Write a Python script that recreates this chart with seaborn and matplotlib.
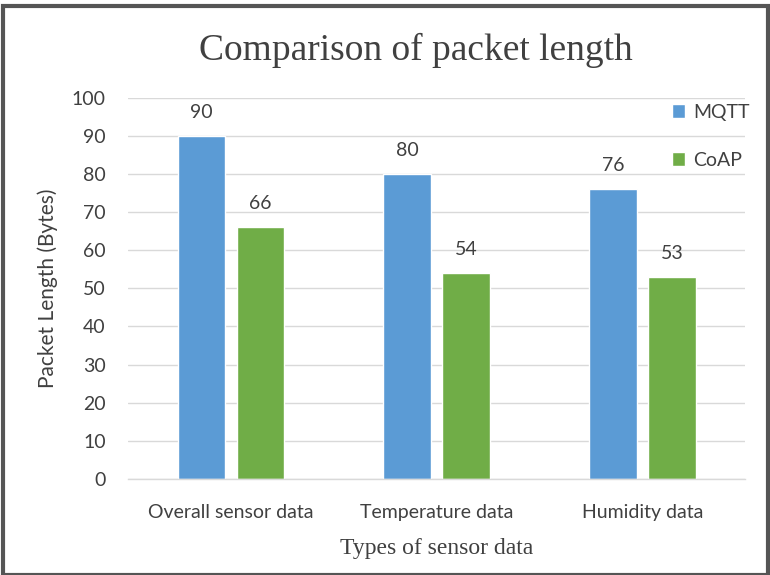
import matplotlib
matplotlib.use("Agg")
import matplotlib.pyplot as plt
import seaborn as sns
import pandas as pd
from matplotlib.patches import Rectangle

categories = ["Overall sensor data", "Temperature data", "Humidity data"]
series_names = ["MQTT", "CoAP"]
mqtt_values = [90, 80, 76]
coap_values = [66, 54, 53]
y_ticks = [0, 10, 20, 30, 40, 50, 60, 70, 80, 90, 100]

df = pd.DataFrame({
    "category": categories * 2,
    "protocol": [series_names[0]] * 3 + [series_names[1]] * 3,
    "value": mqtt_values + coap_values,
})

sns.set_theme(style="white")
plt.rcParams["font.family"] = ["Lato", "DejaVu Sans"]

fig = plt.figure(figsize=(7.7, 5.75), dpi=100)
ax = fig.add_axes([0.166, 0.167, 0.802, 0.663])

palette = {"MQTT": "#5B9BD5", "CoAP": "#70AD47"}
sns.barplot(data=df, x="category", y="value", hue="protocol", order=categories,
            hue_order=series_names, palette=palette, width=0.574, gap=0.2,
            saturation=1, ax=ax, legend=True)

for cont in ax.containers:
    ax.bar_label(cont, fmt="%d", padding=11, fontsize=14, color="#404040")

ax.set_ylim(0, 100)
ax.set_yticks(y_ticks)
ax.yaxis.grid(True, color="#D9D9D9", linewidth=1)
ax.set_axisbelow(True)
for s in ["top", "right", "left"]:
    ax.spines[s].set_visible(False)
ax.spines["bottom"].set_color("#D9D9D9")
ax.spines["bottom"].set_linewidth(1)
ax.tick_params(axis="y", length=0, pad=16, labelsize=14, labelcolor="#404040")
ax.tick_params(axis="x", length=0, pad=18, labelsize=14, labelcolor="#404040")

ax.set_ylabel("Packet Length (Bytes)", fontsize=15, color="#404040", labelpad=10)
ax.set_xlabel("Types of sensor data", fontsize=17, color="#404040",
              family=["Liberation Serif", "DejaVu Serif"], labelpad=12)
fig.text(416 / 770, 1 - 50 / 575, "Comparison of packet length", fontsize=27,
         color="#404040", family=["Liberation Serif", "DejaVu Serif"],
         ha="center", va="center")

leg = ax.legend(loc="upper right", bbox_to_anchor=(1.035, 1.03), frameon=False,
                fontsize=14, handlelength=0.7, handleheight=0.7, handletextpad=0.4,
                labelspacing=1.6, labelcolor="#404040")

fig.patches.append(Rectangle((0.004, 0.0), 0.994, 0.99, transform=fig.transFigure,
                             fill=False, edgecolor="#555555", linewidth=3))

fig.savefig("out.png", dpi=100)
